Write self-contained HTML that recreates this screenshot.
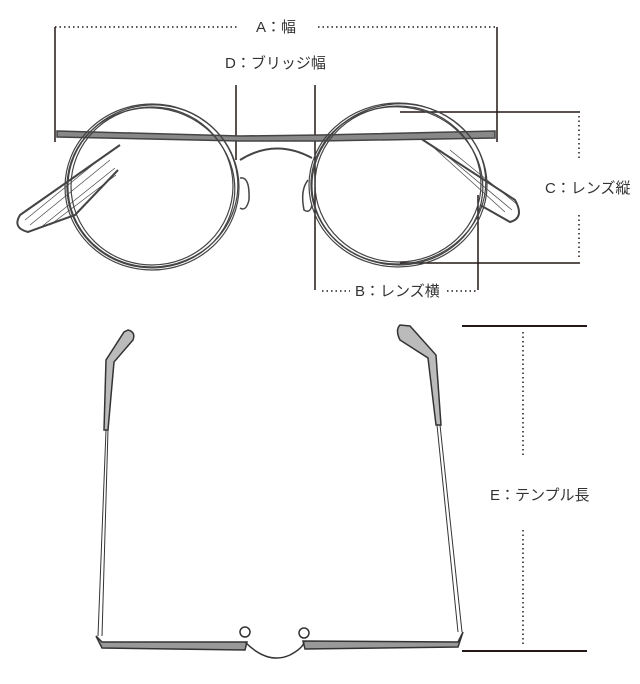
<!DOCTYPE html>
<html><head><meta charset="utf-8"><style>
html,body{margin:0;padding:0;background:#fff}
svg{display:block}
text{font-family:"Liberation Sans","Noto Sans CJK JP",sans-serif;fill:#333;font-size:15px}
</style></head><body>
<svg width="640" height="684" viewBox="0 0 640 684" xmlns="http://www.w3.org/2000/svg">
<g stroke="#231815" fill="none">
<line x1="55" y1="27" x2="237" y2="27" stroke-width="1.5" stroke-dasharray="1.5 3"/>
<line x1="318" y1="27" x2="496" y2="27" stroke-width="1.5" stroke-dasharray="1.5 3"/>
<line x1="55" y1="27" x2="55" y2="142" stroke-width="1.5"/>
<line x1="497" y1="27" x2="497" y2="142" stroke-width="1.5"/>
<line x1="236" y1="85" x2="236" y2="160" stroke-width="1.5"/>
<line x1="315" y1="85" x2="315" y2="290" stroke-width="1.5"/>
<line x1="478" y1="195" x2="478" y2="290" stroke-width="1.5"/>
<line x1="322" y1="291" x2="350" y2="291" stroke-width="1.5" stroke-dasharray="1.5 3"/>
<line x1="447" y1="291" x2="476" y2="291" stroke-width="1.5" stroke-dasharray="1.5 3"/>
<line x1="400" y1="112" x2="580" y2="112" stroke-width="1.5"/>
<line x1="400" y1="263" x2="580" y2="263" stroke-width="1.5"/>
<line x1="579" y1="116" x2="579" y2="160" stroke-width="1.5" stroke-dasharray="1.5 3"/>
<line x1="579" y1="215" x2="579" y2="260" stroke-width="1.5" stroke-dasharray="1.5 3"/>
<line x1="462" y1="326" x2="587" y2="326" stroke-width="2"/>
<line x1="462" y1="651" x2="587" y2="651" stroke-width="2"/>
<line x1="523" y1="332" x2="523" y2="455" stroke-width="1.5" stroke-dasharray="1.5 3"/>
<line x1="523" y1="530" x2="523" y2="645" stroke-width="1.5" stroke-dasharray="1.5 3"/>
</g>
<text x="256" y="32">A：幅</text>
<text x="225" y="68">D：ブリッジ幅</text>
<text x="355" y="296">B：レンズ横</text>
<text x="545" y="193">C：レンズ縦</text>
<text x="490" y="500">E：テンプル長</text>

<g fill="none" stroke="#444">
<path d="M120 145 L20 215 Q12 228 28 232 L75 215 L118 170" stroke-width="2"/>
<path d="M30 225 L110 160 M40 228 L115 168 M25 220 L105 155 M50 225 L116 175" stroke-width="0.7"/>
<path d="M420 138 L515 200 Q525 218 510 222 L480 205" stroke-width="2"/>
<path d="M440 150 L512 210 M450 150 L518 205 M432 146 L505 212" stroke-width="0.7"/>
<path d="M57 131 L240 136 L320 135 L495 131 L495 138 L320 141 L240 141 L57 137 Z" stroke-width="1.5" fill="#888"/>
<path d="M240 160 Q275 138 312 158" stroke-width="2"/>
<g stroke-width="1.2">
<ellipse cx="152" cy="187" rx="87" ry="83"/>
<ellipse cx="153" cy="186" rx="85" ry="81" transform="rotate(-6 152 187)"/>
<ellipse cx="151" cy="188" rx="84" ry="80" transform="rotate(8 152 187)"/>
<ellipse cx="152" cy="186" rx="81" ry="79"/>
<ellipse cx="398" cy="185" rx="89" ry="82"/>
<ellipse cx="399" cy="184" rx="87" ry="80" transform="rotate(-7 398 185)"/>
<ellipse cx="397" cy="186" rx="86" ry="79" transform="rotate(6 398 185)"/>
<ellipse cx="398" cy="184" rx="83" ry="78"/>
</g>
<path d="M240 178 Q250 176 249 200 Q246 212 240 208" stroke-width="1.5"/>
<path d="M308 180 Q300 190 304 210 Q310 214 312 205" stroke-width="1.5"/>
</g>

<g fill="none" stroke="#333">
<path d="M128 330 Q136 332 133 340 L114 362 L108 430 L104 430 L106 360 L124 332 Z" stroke-width="1.5" fill="#bbb"/>
<path d="M106 430 L98 636 M108 430 L102 636" stroke-width="1"/>
<path d="M400 325 Q395 330 400 340 L428 358 L436 425 L441 425 L436 355 L410 326 Z" stroke-width="1.5" fill="#bbb"/>
<path d="M437 425 L458 632 M440 425 L462 632" stroke-width="1"/>
<path d="M96 636 L102 648 L245 650 L247 642 L102 642 Z" stroke-width="1.5" fill="#999"/>
<path d="M463 632 L458 647 L305 649 L303 641 L458 642 Z" stroke-width="1.5" fill="#999"/>
<path d="M245 642 Q268 665 290 655 Q303 648 304 642" stroke-width="1.5"/>
<circle cx="245" cy="632" r="5" stroke-width="1.5"/>
<circle cx="304" cy="633" r="5" stroke-width="1.5"/>
</g>
</svg>
</body></html>
